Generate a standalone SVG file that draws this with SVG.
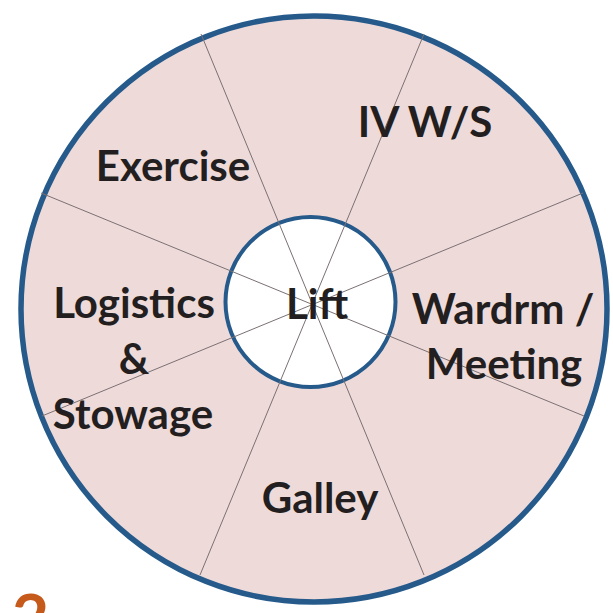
<svg xmlns="http://www.w3.org/2000/svg" width="613" height="613" viewBox="0 0 613 613">
<style>
.lbl{font-family:Lato,"Open Sans","Liberation Sans",sans-serif;font-weight:700;font-size:42px;fill:#231f20;text-anchor:middle}
.spoke{stroke:#7a7072;stroke-width:1;fill:none}
</style>
<rect width="613" height="613" fill="#ffffff"/>
<g id="outer-ring">
<circle cx="314" cy="309" r="293" fill="#efdada" stroke="#255a8b" stroke-width="5.5"/>
</g>
<g id="lift">
<circle cx="310.5" cy="302" r="85" fill="#ffffff" stroke="#255a8b" stroke-width="4"/>
</g>
<g id="spokes">
<line class="spoke" x1="201" y1="34" x2="424" y2="575"/>
<line class="spoke" x1="424" y1="34" x2="200" y2="575"/>
<line class="spoke" x1="41" y1="193" x2="584" y2="416"/>
<line class="spoke" x1="583" y1="193" x2="42" y2="416"/>
</g>
<g id="labels">
<text class="lbl" x="425" y="137">IV W/S</text>
<text class="lbl" x="173" y="181">Exercise</text>
<text class="lbl" x="134" y="318">Logistics</text>
<text class="lbl" x="134" y="374">&amp;</text>
<text class="lbl" x="133" y="429">Stowage</text>
<text class="lbl" x="317" y="319">Lift</text>
<text class="lbl" x="503" y="324">Wardrm /</text>
<text class="lbl" x="504" y="379">Meeting</text>
<text class="lbl" x="320" y="513">Galley</text>
</g>
<text x="12" y="640" font-family="Lato,'Liberation Sans',sans-serif" font-weight="700" font-size="64" fill="#c55a1a">2</text>
</svg>
